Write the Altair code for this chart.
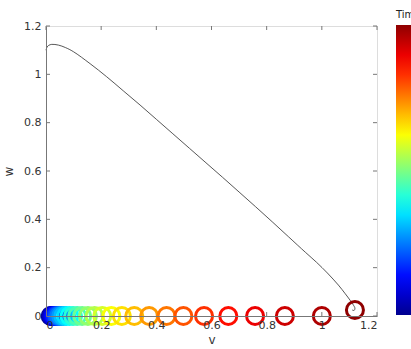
import altair as alt
import pandas as pd

# trajectory (v, w)
curve_v = [0.0, 0.004, 0.010, 0.021, 0.045, 0.070, 0.099, 0.160, 0.220, 0.280, 0.341,
           0.400, 0.460, 0.520, 0.580, 0.640, 0.700, 0.760, 0.820, 0.880, 0.940,
           0.981, 1.020, 1.060, 1.085, 1.102, 1.114, 1.120, 1.117, 1.110]
curve_w = [1.100, 1.113, 1.120, 1.124, 1.121, 1.111, 1.094, 1.044, 0.990, 0.932, 0.873,
           0.814, 0.754, 0.694, 0.634, 0.574, 0.513, 0.452, 0.390, 0.327, 0.264,
           0.222, 0.178, 0.128, 0.092, 0.066, 0.046, 0.032, 0.023, 0.025]

# circles, coloured by time
circle_v = [0.017, 0.020, 0.023, 0.027, 0.031, 0.036, 0.042, 0.048, 0.055, 0.063,
            0.073, 0.085, 0.098, 0.113, 0.131, 0.152, 0.176, 0.204, 0.237, 0.275,
            0.320, 0.374, 0.437, 0.498, 0.573, 0.661, 0.758, 0.866, 1.0, 1.12]
circle_w = [0.0, 0.0, 0.0, 0.0, 0.0, 0.0, 0.0, 0.0, 0.0, 0.0,
            0.0, 0.0, 0.0, 0.0, 0.0, 0.0, 0.0, 0.0, 0.0, 0.0,
            0.0, 0.0, 0.0, 0.0, 0.0, 0.0, 0.0, 0.0, 0.0, 0.025]
circle_t = [0, 1, 2, 3, 4, 5, 6, 7, 8, 9, 10, 11, 12, 13, 14, 15, 16, 17, 18, 19,
            20, 21, 22, 23, 24, 25, 26, 27, 28, 29]

tick_vals = [0, 0.2, 0.4, 0.6, 0.8, 1.0, 1.2]

jet = ["#00008f", "#0000ff", "#007fff", "#00ffff", "#7fff7f",
       "#ffff00", "#ff7f00", "#ff0000", "#8f0000"]

W, H = 331, 290

curve_df = pd.DataFrame({"v": curve_v, "w": curve_w, "order": list(range(len(curve_v)))})
circ_df = pd.DataFrame({"v": circle_v, "w": circle_w, "t": circle_t})
tick_df = pd.DataFrame({"tick": tick_vals})

xs = alt.Scale(domain=[0, 1.2], nice=False, zero=False)
ys = alt.Scale(domain=[0, 1.2], nice=False, zero=False)

axis_common = dict(
    values=tick_vals, format="~g", tickSize=0, grid=False, domainColor="#777777",
    labelColor="#333333", labelFont="DejaVu Sans", labelFontSize=11,
    titleFont="DejaVu Sans", titleFontSize=12, titleFontWeight="normal",
    titleColor="#333333", zindex=1,
)

line = alt.Chart(curve_df).mark_line(
    color="#444444", strokeWidth=0.9, interpolate="catmull-rom"
).encode(
    x=alt.X("v:Q", scale=xs, title="v",
            axis=alt.Axis(labelPadding=3, titlePadding=4, **axis_common)),
    y=alt.Y("w:Q", scale=ys, title="w",
            axis=alt.Axis(labelPadding=5, titlePadding=8, **axis_common)),
    order="order:Q",
)

circles = alt.Chart(circ_df).mark_point(
    shape="circle", filled=False, size=290, strokeWidth=3, opacity=1
).encode(
    x=alt.X("v:Q", scale=xs),
    y=alt.Y("w:Q", scale=ys),
    color=alt.Color(
        "t:Q",
        scale=alt.Scale(domain=[0, 29], range=jet, interpolate="rgb"),
        legend=alt.Legend(
            title="Time", orient="none", legendX=350, legendY=-16,
            gradientLength=H, gradientThickness=30, labelExpr="''",
            titleFont="DejaVu Sans", titleFontSize=10, titleFontWeight="normal",
            titleColor="#222222", titlePadding=5, gradientStrokeWidth=0,
        ),
    ),
    order="t:Q",
)

tick_color = "#777777"
left_ticks = alt.Chart(tick_df).mark_rule(color=tick_color, strokeWidth=1).encode(
    y=alt.Y("tick:Q", scale=ys), x=alt.value(0), x2=alt.value(4))
right_ticks = alt.Chart(tick_df).mark_rule(color=tick_color, strokeWidth=1).encode(
    y=alt.Y("tick:Q", scale=ys), x=alt.value(W - 4), x2=alt.value(W))
bottom_ticks = alt.Chart(tick_df).mark_rule(color=tick_color, strokeWidth=1).encode(
    x=alt.X("tick:Q", scale=xs), y=alt.value(H - 4), y2=alt.value(H))
top_ticks = alt.Chart(tick_df).mark_rule(color=tick_color, strokeWidth=1).encode(
    x=alt.X("tick:Q", scale=xs), y=alt.value(0), y2=alt.value(4))

chart = alt.layer(
    left_ticks, right_ticks, bottom_ticks, top_ticks, line, circles
).properties(
    width=W, height=H,
    autosize=alt.AutoSizeParams(type="none"),
    padding={"left": 46, "top": 26, "right": 34, "bottom": 33},
).configure_view(
    stroke="#777777", strokeWidth=1
).configure(background="white")

chart.save("out.html", embed_options={"renderer": "svg", "actions": False})
